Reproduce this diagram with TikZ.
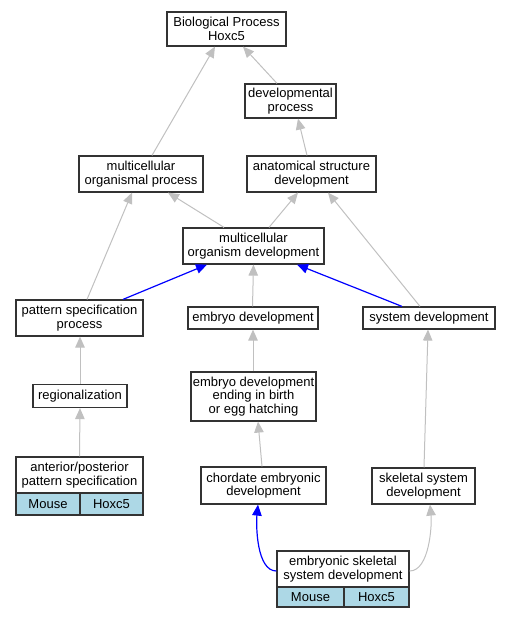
\documentclass[tikz,border=0pt]{standalone}
\usepackage{fontspec}
\setmainfont{Liberation Sans}
\usetikzlibrary{arrows.meta}
\definecolor{edgegray}{HTML}{C0C0C0}
\definecolor{cellblue}{HTML}{ADD8E6}
\definecolor{boxline}{HTML}{333333}
\tikzset{
  box/.style={draw=boxline, line width=1.2pt, fill=white, inner sep=0pt, align=center,
    font=\fontsize{13}{13.5}\selectfont},
  cell/.style={box, fill=cellblue},
  gedge/.style={draw=edgegray, line width=1pt, -{Triangle[length=11pt,width=9.5pt]}},
  bedge/.style={draw=blue, line width=1.2pt, -{Triangle[length=11pt,width=9.5pt]}},
}
\begin{document}
\begin{tikzpicture}[x=1pt,y=-1pt]
\useasboundingbox (0,0) rectangle (511,619);
% nodes
\node[box, minimum width=119pt, minimum height=34pt] (bp) at (226.5,29) {Biological Process\\Hoxc5};
\node[box, minimum width=91pt, minimum height=34pt] (dp) at (290.5,101) {developmental\\process};
\node[box, minimum width=124pt, minimum height=36pt] (mop) at (141,174) {multicellular\\organismal process};
\node[box, minimum width=129pt, minimum height=36pt] (asd) at (311.5,174) {anatomical structure\\development};
\node[box, minimum width=141pt, minimum height=36pt] (mod) at (253.5,246) {multicellular\\organism development};
\node[box, minimum width=127pt, minimum height=36pt] (psp) at (79.5,318) {pattern specification\\process};
\node[box, minimum width=130pt, minimum height=22pt] (ed) at (253,318) {embryo development};
\node[box, minimum width=132pt, minimum height=22pt] (sd) at (429,318) {system development};
\node[box, minimum width=94pt, minimum height=23pt] (reg) at (80,396) {regionalization};
\node[box, minimum width=125pt, minimum height=49pt] (edeb) at (253.5,396.5) {embryo development\\ending in birth\\or egg hatching};
\node[box, minimum width=125pt, minimum height=37pt] (cd) at (263.5,485.5) {chordate embryonic\\development};
\node[box, minimum width=103pt, minimum height=36pt] (ssd) at (423.5,486) {skeletal system\\development};
% table nodes
\node[box, minimum width=127pt, minimum height=36pt] (ap) at (79.5,475) {anterior/posterior\\pattern specification};
\node[cell, minimum width=64pt, minimum height=22pt] (apmouse) at (48,504) {Mouse};
\node[cell, minimum width=63pt, minimum height=22pt] (apgene) at (111.5,504) {Hoxc5};
\node[box, minimum width=132pt, minimum height=36pt] (essd) at (343,569) {embryonic skeletal\\system development};
\node[cell, minimum width=67pt, minimum height=20pt] (esmouse) at (310.5,597) {Mouse};
\node[cell, minimum width=65pt, minimum height=20pt] (esgene) at (376.5,597) {Hoxc5};
% edges
\draw[gedge] ([xshift=-13.5pt]dp.north) -- ([xshift=16.5pt]bp.south);
\draw[gedge] ([xshift=11pt]mop.north) -- ([xshift=-11.5pt]bp.south);
\draw[gedge] ([xshift=-4.5pt]asd.north) -- ([xshift=7.5pt]dp.south);
\draw[gedge] ([xshift=-29.5pt]mod.north) -- ([xshift=27pt]mop.south);
\draw[gedge] ([xshift=15.5pt]mod.north) -- ([xshift=-13.5pt]asd.south);
\draw[gedge] ([xshift=7.5pt]psp.north) -- ([xshift=-9pt]mop.south);
\draw[bedge] ([xshift=43.5pt]psp.north) -- ([xshift=-46.5pt]mod.south);
\draw[gedge] ([xshift=-0.5pt]ed.north) -- (mod.south);
\draw[bedge] ([xshift=-27pt]sd.north) -- ([xshift=43.5pt]mod.south);
\draw[gedge] ([xshift=-9pt]sd.north) -- ([xshift=16.5pt]asd.south);
\draw[gedge] (reg.north) -- ([xshift=0.5pt]psp.south);
\draw[gedge] ([xshift=-0.5pt]edeb.north) -- (ed.south);
\draw[gedge] (ap.north) -- (reg.south);
\draw[gedge] ([xshift=-1.5pt]cd.north) -- ([xshift=4.5pt]edeb.south);
\draw[gedge] ([xshift=0.5pt]ssd.north) -- ([xshift=-1pt]sd.south);
\draw[bedge] ([yshift=-2pt]essd.west) .. controls +(-20,0) and +(-2,20) .. ([xshift=-5.5pt]cd.south);
\draw[gedge] ([yshift=-2pt]essd.east) .. controls +(20,0) and +(2,20) .. ([xshift=6.5pt]ssd.south);
\end{tikzpicture}
\end{document}
